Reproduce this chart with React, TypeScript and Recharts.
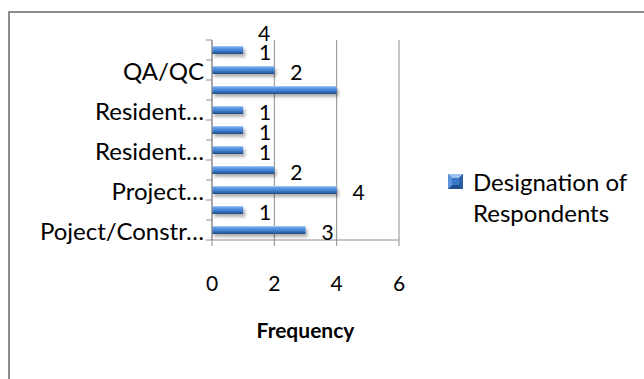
import React from "react";
import { Bar, BarChart, CartesianGrid, LabelList, XAxis, YAxis } from "recharts";

// Categories listed bottom to top, as the axis draws them.
const categories = [
  "Poject/Construction Manager",
  "Site Engineer",
  "Project Manager",
  "Quantity Surveyor",
  "Resident Engineer",
  "Architect",
  "Resident Architect",
  "Site Supervisor",
  "QA/QC",
  "Safety Officer",
];
const shortLabels = ["Poject/Constr…", "", "Project…", "", "Resident…", "", "Resident…", "", "QA/QC", ""];
const respondents = [3, 1, 4, 2, 1, 1, 1, 4, 2, 1];
const xTicks = [0, 2, 4, 6];
const seriesName = ["Designation of", "Respondents"];
// This bar's value label sits above the plot instead of beside the bar.
const liftedLabel = "Site Supervisor";

const data = categories.map((name, i) => ({ name, short: shortLabels[i], value: respondents[i] }));

const W = 644;
const H = 379;
const PLOT_TOP = 40;
const PLOT_BOTTOM = 240;
const AXIS_X = 212;
const PLOT_RIGHT = 399;
const FONT = "Lato, 'Open Sans', sans-serif";
const GRID = "#8c8c8c";
const BAND = (PLOT_BOTTOM - PLOT_TOP) / categories.length;

function CategoryTick(props: any) {
  const { x, y, index } = props;
  const row = data[index];
  return (
    <g>
      <line x1={x + 2} x2={x + 8} y1={y - BAND / 2} y2={y - BAND / 2} stroke={GRID} />
      {index === 0 && <line x1={x + 2} x2={x + 8} y1={y + BAND / 2} y2={y + BAND / 2} stroke={GRID} />}
      {row.short && (
        <text x={x} y={y + 10} textAnchor="end" fontFamily={FONT} fontSize={24} fill="#000">
          {row.short}
        </text>
      )}
    </g>
  );
}

function ValueLabel(props: any) {
  const { x, y, width, height, value, index } = props;
  const lifted = data[index].name === liftedLabel;
  const cx = lifted ? x + 52 : x + width + 22;
  const cy = lifted ? PLOT_TOP - 7 : y + height / 2 + 2.5;
  return (
    <text x={cx} y={cy + 7.5} textAnchor="middle" fontFamily={FONT} fontSize={21} fill="#000">
      {value}
    </text>
  );
}

function LegendBox() {
  return (
    <div
      style={{
        position: "absolute",
        left: 448,
        top: 166,
        display: "flex",
        alignItems: "flex-start",
        fontFamily: FONT,
        fontSize: 24,
        lineHeight: "31px",
        color: "#000",
      }}
    >
      <svg width={16} height={16} style={{ marginTop: 8, marginRight: 9 }}>
        <rect x={0} y={0} width={15} height={15} fill="#3a78c9" />
        <polygon points="0,0 15,0 11,4 4,4" fill="#9cc3f0" />
        <polygon points="0,15 15,15 11,11 4,11" fill="#1f4f8f" />
        <polygon points="0,0 4,4 4,11 0,15" fill="#5b94dc" />
        <polygon points="15,0 11,4 11,11 15,15" fill="#2c5fa6" />
      </svg>
      <div>
        {seriesName.map((line) => (
          <div key={line}>{line}</div>
        ))}
      </div>
    </div>
  );
}

export default function App() {
  return (
    <div style={{ position: "absolute", left: 0, top: 0, width: W, height: H, background: "#fff", overflow: "hidden" }}>
      <div
        style={{
          position: "absolute",
          left: 8,
          top: 11,
          width: W,
          height: H,
          borderLeft: `2px solid ${GRID}`,
          borderTop: `2px solid ${GRID}`,
        }}
      />
      <BarChart
        width={W}
        height={H}
        layout="vertical"
        data={data}
        margin={{ top: PLOT_TOP, right: W - PLOT_RIGHT, bottom: 0, left: 0 }}
        style={{ position: "absolute", left: 0, top: 0 }}
      >
        <defs>
          <linearGradient id="barFill" x1="0" y1="0" x2="0" y2="1">
            <stop offset="0%" stopColor="#b3d3f7" />
            <stop offset="22%" stopColor="#5f9de6" />
            <stop offset="65%" stopColor="#3b77c8" />
            <stop offset="100%" stopColor="#1d4a86" />
          </linearGradient>
          <filter id="barShadow" x="-10%" y="-50%" width="130%" height="250%">
            <feDropShadow dx={2} dy={3} stdDeviation={1.6} floodColor="#000" floodOpacity={0.3} />
          </filter>
        </defs>
        <CartesianGrid horizontal={false} stroke={GRID} />
        <XAxis
          type="number"
          domain={[0, 6]}
          ticks={xTicks}
          height={H - PLOT_BOTTOM}
          stroke={GRID}
          tickSize={6}
          tickMargin={30}
          tick={{ fill: "#000", fontSize: 21, fontFamily: FONT }}
          label={({ viewBox }: any) => (
            <text
              x={viewBox.x + viewBox.width / 2}
              y={viewBox.y + 98}
              textAnchor="middle"
              fontFamily={FONT}
              fontSize={21}
              fontWeight="bold"
              fill="#000"
            >
              Frequency
            </text>
          )}
        />
        <YAxis
          type="category"
          dataKey="name"
          reversed
          width={AXIS_X}
          interval={0}
          tickLine={false}
          axisLine={{ stroke: GRID }}
          tick={<CategoryTick />}
        />
        <Bar
          dataKey="value"
          name={seriesName.join(" ")}
          fill="url(#barFill)"
          barSize={8}
          filter="url(#barShadow)"
          isAnimationActive={false}
        >
          <LabelList dataKey="value" content={<ValueLabel />} />
        </Bar>
      </BarChart>
      <LegendBox />
    </div>
  );
}
